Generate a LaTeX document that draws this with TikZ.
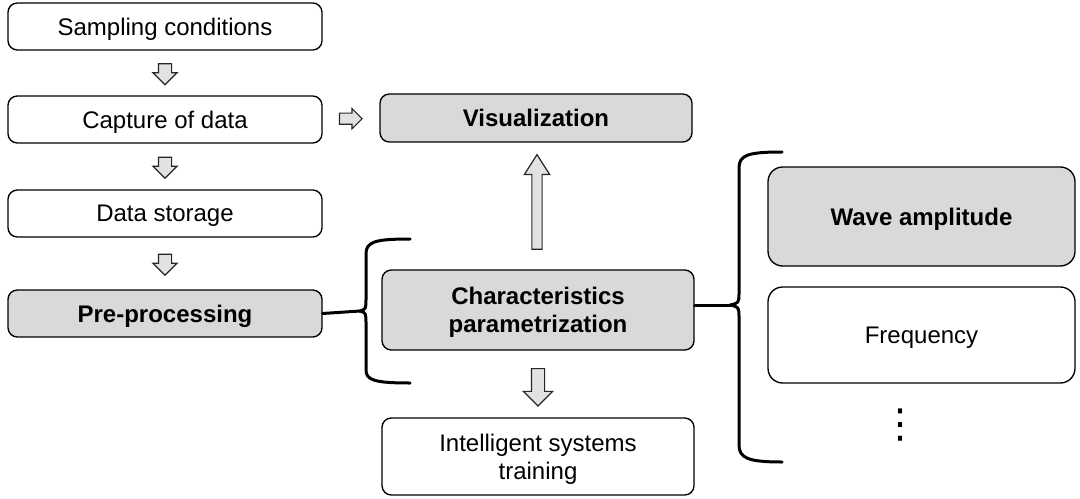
\documentclass[tikz,border=0pt]{standalone}
\usepackage{fontspec}
\setmainfont{Liberation Sans}
\newfontfamily\symfont{DejaVu Sans}
\usetikzlibrary{shapes.arrows,calc}

\definecolor{boxgray}{HTML}{D9D9D9}
\definecolor{arrowgray}{HTML}{E2E2E2}

\tikzset{every picture/.style={line width=0.75pt}}
\tikzset{
stepbox/.style={draw, rounded corners=7pt, line width=1pt, minimum width=235.5pt, minimum height=35.25pt, inner sep=0pt, text depth=0pt, align=center, font=\fontsize{18}{21}\selectfont},
graybox/.style={stepbox, fill=boxgray, font=\fontsize{18}{21}\selectfont\bfseries},
blockarrow/.style={single arrow, draw=black!85, fill=arrowgray, line width=0.9pt, inner xsep=0pt, inner ysep=4.5pt, single arrow head extend=4.1pt, minimum height=15.75pt},
brace/.style={line width=2.25pt, line cap=round, line join=round}
}

\begin{document}
\begin{tikzpicture}[x=0.75pt,y=0.75pt,yscale=-1,xscale=1]
\useasboundingbox (0,0) rectangle (1080,499);

% left column
\node (samp) at (165,26.5) [stepbox] {Sampling conditions};
\node (capt) at (165,119.5) [stepbox] {Capture of data};
\node (stor) at (165,213.5) [stepbox] {Data storage};
\node (pre) at (165,313.5) [graybox] {Pre-processing};

% middle column
\node (vis) at (536,118) [graybox, minimum width=234pt, minimum height=36pt] {Visualization};
\node (char) at (538,310) [graybox, minimum width=234pt, minimum height=60pt] {Characteristics\\parametrization};
\node (intel) at (538,456.5) [stepbox, minimum width=234pt, minimum height=57.75pt] {Intelligent systems\\training};

% right column
\node (wave) at (921.5,216.5) [graybox, rounded corners=11pt, minimum width=230.25pt, minimum height=74.25pt] {Wave amplitude};
\node (freq) at (921.5,335) [stepbox, rounded corners=11pt, minimum width=230.25pt, minimum height=72pt] {Frequency};
\node (more) at (900,425) [inner sep=0pt, font=\fontsize{30}{30}\symfont] {⋮};

% block arrows
\node (a1) at ($(samp.south)!0.5!(capt.north)+(0,-2)$) [blockarrow, rotate=-90] {};
\node (a2) at ($(capt.south)!0.5!(stor.north)+(0,-2)$) [blockarrow, rotate=-90] {};
\node (a3) at ($(stor.south)!0.5!(pre.north)+(0,-2)$) [blockarrow, rotate=-90] {};
\node (a4) at ($(capt.east)!0.5!(vis.west)+(-3,0)$) [blockarrow, inner ysep=3.75pt, single arrow head extend=3.4pt, minimum height=17pt] {};
\node (a5) at ($(char.north)!0.5!(vis.south)$) [blockarrow, rotate=90, inner ysep=3.4pt, single arrow head extend=5.6pt, minimum height=71pt, single arrow tip angle=65] {};
\node (a6) at ($(char.south)!0.5!(intel.north)$) [blockarrow, rotate=-90, inner ysep=4.5pt, single arrow head extend=6pt, minimum height=28pt] {};

% braces
\coordinate (lt) at (360,311);
\coordinate (rt) at (730,305);
\draw[brace] (pre.east) -- (lt);
\draw[brace] (410,239) .. controls (374,239) and (366,242) .. (366,254) -- (366,298) .. controls (366,309) .. (lt) .. controls (366,313) .. (366,324) -- (366,370) .. controls (366,380) and (374,383) .. (410,383);
\draw[brace] (char.east |- rt) -- (rt);
\draw[brace] (782,152) .. controls (748,152) and (739,155) .. (739,168) -- (739,292) .. controls (739,303) .. (rt) .. controls (739,307) .. (739,318) -- (739,445) .. controls (739,458) and (748,462) .. (782,462);

\end{tikzpicture}
\end{document}
